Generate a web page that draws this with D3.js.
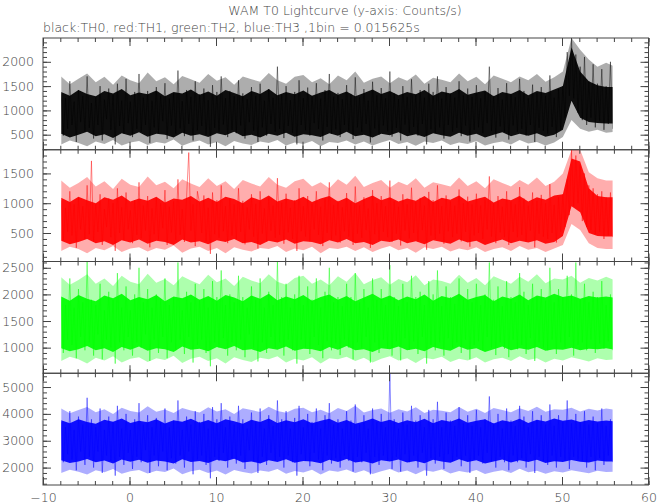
<!DOCTYPE html>
<html><head><meta charset="utf-8">
<script src="https://cdn.jsdelivr.net/npm/d3@7"></script>
<style>
html,body{margin:0;padding:0;background:#fff;}
svg text{font-family:"DejaVu Sans",sans-serif;font-weight:200;fill:#444;}
</style></head>
<body><svg id="c" width="657" height="504"></svg>
<script>
// ---- data (Counts/s) ----
// spike trace: one value per 0.25 s; dense core and lighter halo: low/high edges per 1 s
const TIME_START = -7.9;
const BIN = 0.25;
const BAND_BIN = 1;
const titleText = "WAM T0 Lightcurve (y-axis: Counts/s)";
const subtitleText = "black:TH0, red:TH1, green:TH2, blue:TH3 ,1bin = 0.015625s";
const xTickLabels = [-10, 0, 10, 20, 30, 40, 50, 60];
const th0Ticks = [500, 1000, 1500, 2000];
const th1Ticks = [500, 1000, 1500];
const th2Ticks = [1000, 1500, 2000, 2500];
const th3Ticks = [2000, 3000, 4000, 5000];

const th0 = [
1350,480,1250,620,1600,700,1180,350,1420,760,1300,560,1700,640,1150,420,
1280,700,1500,380,1220,820,1450,600,1320,300,1550,680,1200,520,1650,740,
1180,450,1380,620,1750,560,1260,700,1400,330,1200,650,1480,540,1300,780,
1560,410,1240,690,1350,520,1820,630,1190,470,1420,720,1280,380,1600,590,
1330,680,1450,500,1210,250,1520,640,1380,560,1700,710,1250,450,1400,600,
1290,530,1620,690,1350,420,1230,760,1480,580,1300,350,1550,650,1200,480,
1440,720,1260,560,1900,620,1330,430,1500,680,1210,540,1380,300,1620,700,
1250,590,1470,480,1300,740,1560,620,1240,380,1420,660,1750,520,1280,610,
1360,450,1230,700,1520,580,1340,410,1680,650,1270,560,1440,720,1200,340,
1590,630,1310,500,1460,690,1250,570,1800,460,1350,640,1230,380,1500,710,
1280,540,1640,660,1330,480,1420,720,1260,300,1550,610,1380,530,1700,650,
1240,420,1480,700,1350,560,1260,640,1600,470,1310,690,1450,360,1280,600,
1520,650,1250,530,1380,740,1900,580,1300,440,1460,670,1220,560,1560,400,
1340,690,1270,560,1650,620,1400,480,1250,700,1530,350,1360,640,1480,580,
1300,520,1720,660,1260,450,1440,600,1500,850,2200,1300,2490,1250,2150,950,
1900,800,2100,700,1600,850,1950,650,1550,780,1850,600,1500,720,2000,620];
const th0Lo = [520,440,500,560,470,510,430,530,480,550, 460,520,500,440,540,480,510,450,530,490,
560,470,500,440,520,480,540,460,510,490, 450,530,480,560,470,500,440,520,490,550,
470,510,450,530,490,460,540,480,520,440, 500,550,470,520,480,530,460,500, 600,1200,850,760,740,730,730];
const th0Hi = [1380,1300,1420,1340,1290,1400,1350,1440,1310,1370, 1330,1410,1290,1380,1350,1430,1320,1390,1300,1420,
1360,1290,1400,1340,1440,1310,1380,1330,1410,1300, 1370,1420,1320,1390,1290,1360,1430,1340,1400,1310,
1380,1330,1420,1300,1390,1350,1440,1320,1370,1410, 1290,1380,1340,1420,1310,1400,1360,1430, 1500,2300,1800,1600,1520,1480,1480];
const th0HaloLo = [300,380,330,260,360,310,390,280,340,370, 290,350,320,400,270,340,380,300,350,260,
370,320,290,360,330,390,280,340,310,370, 260,350,330,380,300,360,280,340,390,310,
350,270,360,330,380,290,340,310,370,280, 330,360,300,390,320,350,280,340, 450,800,620,560,600,540,560];
const th0HaloHi = [1700,1540,1650,1760,1580,1690,1530,1720,1620,1560, 1780,1600,1680,1540,1710,1640,1570,1750,1610,1680,
1530,1700,1640,1590,1770,1620,1550,1690,1730,1580, 1660,1540,1720,1620,1800,1570,1650,1700,1560,1680,
1610,1740,1550,1670,1630,1580,1760,1600,1690,1540, 1720,1650,1580,1700,1620,1750,1590,1680, 1800,2490,2250,2050,1900,1980,1900];

const th1 = [
1050,380,920,520,1200,460,980,250,1100,560,950,400,1300,480,1710,350,
990,520,1150,300,900,600,1080,430,1000,200,1250,500,930,380,1180,560,
880,330,1050,470,1350,410,960,540,1120,260,910,480,1080,390,1000,580,
1220,300,940,510,1030,380,1400,470,900,350,1110,1850,540,980,280,1200,
1000,500,1130,360,920,150,1180,480,1050,420,1300,530,950,330,1080,460,
980,400,1250,520,1040,310,930,560,1150,440,990,240,1200,490,910,360,
1090,540,960,420,1420,470,1010,320,1160,510,920,400,1050,200,1250,530,
950,440,1120,360,990,560,1200,470,940,280,1080,500,1350,390,970,460,
1040,340,930,530,1170,440,1020,300,1280,490,960,420,1100,550,910,250,
1220,480,1000,380,1120,520,950,430,1380,350,1030,490,940,290,1150,540,
980,410,1260,500,1020,360,1090,550,960,220,1190,460,1050,400,1300,490,
950,320,1130,530,1030,430,960,490,1230,360,1000,520,1110,270,980,460,
1160,500,960,400,1060,560,1450,440,1000,330,1120,510,940,430,1200,300,
1030,520,980,430,1270,470,1080,360,960,540,1180,260,1040,490,1140,440,
1000,400,1320,500,970,340,1100,520,1150,600,1400,800,1897,950,1800,1000,
1650,700,1500,600,1300,550,1250,480,1150,520,1200,400,1100,460,1180,430];
const th1Lo = [370,310,350,400,330,360,300,380,340,390, 320,370,350,300,390,340,360,310,380,350,
400,330,350,300,370,340,390,320,360,350, 310,380,340,400,330,350,300,370,350,390,
330,360,310,380,350,320,390,340,370,300, 350,390,330,370,340,380,320,350, 450,950,850,500,450,440,440];
const th1Hi = [1090,1020,1110,1050,1000,1100,1060,1130,1030,1080, 1040,1110,1010,1080,1060,1120,1030,1090,1020,1110,
1070,1000,1100,1050,1130,1030,1080,1040,1110,1020, 1080,1120,1030,1090,1000,1070,1130,1050,1100,1030,
1080,1040,1120,1020,1090,1060,1130,1030,1070,1110, 1010,1080,1050,1120,1030,1100,1060,1130, 1150,1750,1700,1250,1120,1100,1100];
const th1HaloLo = [200,270,230,160,250,210,280,180,240,260, 190,250,220,290,170,240,270,200,250,160,
260,220,190,250,230,280,180,240,210,270, 160,250,230,270,200,260,180,240,280,210,
250,170,260,230,270,190,240,210,260,180, 230,260,200,280,220,250,180,240, 300,650,550,330,250,230,230];
const th1HaloHi = [1380,1260,1340,1440,1280,1370,1240,1410,1310,1270, 1450,1300,1360,1250,1400,1330,1270,1420,1290,1370,
1240,1390,1330,1280,1440,1310,1260,1370,1410,1280, 1350,1250,1400,1310,1460,1270,1340,1390,1260,1360,
1300,1420,1260,1350,1320,1280,1430,1290,1370,1250, 1400,1340,1280,1390,1310,1430,1290,1360, 1500,1897,1897,1520,1420,1380,1380];

const th2 = [
1950,900,1800,1150,2300,1050,1750,800,2100,1200,1850,950,2618,1100,1900,850,
1800,1250,2200,780,1700,1150,2050,1000,1900,700,2400,1100,1750,950,2150,1200,
1700,850,2000,1100,2500,1000,1850,1250,2100,750,1750,1150,2000,900,1900,1200,
2300,800,1800,1100,1950,950,2600,1150,1700,880,2050,1200,1850,720,2200,1050,
1900,1150,2100,900,1750,650,2250,1100,1950,1000,2450,1180,1800,850,2000,1100,
1850,950,2350,1150,1950,820,1750,1250,2150,1000,1900,740,2300,1100,1750,900,
2050,1200,1800,1000,2618,1100,1950,850,2200,1150,1750,950,2000,700,2350,1150,
1800,1000,2150,880,1900,1200,2300,1050,1750,800,2050,1120,2500,950,1850,1080,
1950,860,1780,1150,2200,1000,1950,780,2400,1100,1850,1000,2100,1200,1750,720,
2300,1100,1900,900,2100,1150,1800,1000,2550,850,1950,1120,1780,760,2200,1180,
1850,960,2350,1120,1950,880,2050,1200,1800,700,2250,1050,2000,950,2450,1100,
1780,850,2150,1180,1950,1000,1820,1100,2300,900,1900,1150,2100,780,1850,1050,
2200,1120,1800,950,2000,1200,2600,1000,1900,860,2150,1100,1780,980,2250,820,
1950,1150,1850,970,2400,1050,2050,880,1800,1180,2200,750,1950,1100,2100,1000,
1880,950,2500,1150,1850,880,2100,1100,1950,1000,2350,1200,2000,850,2600,1050,
1900,1100,2200,950,1850,1150,2050,900,1950,1080,2250,980,1800,1120,2000,950];
const th2Lo = [990,930,970,1030,950,990,920,1010,960,1020, 940,990,970,920,1020,960,980,930,1010,970,
1030,950,970,920,990,960,1020,940,980,970, 930,1010,960,1030,950,970,920,990,970,1020,
950,980,930,1010,970,940,1020,960,990,920, 970,1020,950,990,960,1010,940,970, 960,1000,950,980,970,990,960];
const th2Hi = [1960,1880,1990,1920,1870,1980,1930,2010,1890,1950, 1910,1990,1870,1960,1930,2000,1900,1970,1880,1990,
1940,1870,1980,1920,2010,1890,1960,1910,1990,1880, 1950,2000,1900,1970,1870,1940,2010,1920,1980,1890,
1960,1910,2000,1880,1970,1930,2010,1900,1950,1990, 1870,1960,1920,2000,1890,1980,1940,2010, 1950,1980,1920,1970,1940,1960,1940];
const th2HaloLo = [750,830,780,700,810,760,840,720,790,820, 730,800,770,850,710,790,830,750,800,700,
820,770,730,810,780,840,720,790,760,820, 700,800,780,830,750,810,720,790,840,760,
800,710,810,780,830,730,790,760,820,720, 780,810,750,840,770,800,720,790, 760,820,780,740,800,770,780];
const th2HaloHi = [2320,2180,2270,2380,2200,2300,2160,2350,2240,2190, 2390,2220,2290,2170,2340,2260,2190,2370,2230,2300,
2160,2330,2260,2210,2380,2240,2180,2310,2350,2200, 2280,2170,2340,2240,2400,2190,2270,2320,2180,2290,
2230,2360,2170,2280,2250,2200,2370,2220,2310,2170, 2340,2270,2200,2330,2240,2380,2210,2300, 2280,2350,2220,2310,2260,2330,2270];

const th3 = [
3700,2200,3500,2500,4100,2300,3400,1900,3900,2600,3600,2100,4600,2400,3800,2000,
3500,2600,4200,1800,3400,2450,3900,2250,3700,1700,4300,2400,3450,2100,4000,2550,
3400,1950,3800,2400,4400,2200,3600,2650,3950,1800,3500,2450,3850,2050,3700,2600,
4200,1900,3500,2350,3750,2150,4500,2450,3400,2000,3900,2600,3600,1750,4100,2300,
3700,2450,4000,2100,3450,1600,4250,2400,3800,2250,4400,2550,3500,2000,3900,2350,
3600,2150,4300,2450,3800,1950,3450,2650,4050,2250,3700,1800,4200,2400,3450,2100,
3950,2550,3550,2250,4500,2400,3800,2000,4100,2450,3450,2200,3850,1700,4300,2500,
3500,2250,4000,2050,3700,2550,4200,2300,3450,1900,3950,2450,4400,2150,3600,2350,
3800,2000,3450,2450,4100,2250,3750,1850,4350,2400,3600,2200,3950,2550,3450,1750,
4200,2400,3700,2100,4000,2450,3500,2250,5513,1950,3800,2400,3450,1850,4050,2500,
3600,2200,4300,2450,3750,2000,3950,2550,3500,1700,4150,2350,3800,2150,4450,2400,
3500,1950,4050,2500,3750,2250,3550,2400,4250,2050,3650,2450,3950,1800,3550,2300,
4150,2450,3500,2150,3800,2550,4650,2250,3650,2000,4000,2400,3450,2200,4200,1900,
3750,2450,3550,2200,4300,2350,3900,2000,3500,2500,4100,1800,3750,2400,3950,2250,
3600,2100,4350,2450,3550,2000,3950,2400,3700,2250,4500,1950,3650,2400,4000,2300,
3700,2250,4100,2000,3600,2400,3900,1900,3650,2350,4200,2100,3550,2450,3800,2200];
const th3Lo = [2270,2170,2230,2320,2200,2260,2150,2300,2220,2290, 2180,2260,2230,2150,2310,2210,2250,2170,2290,2240,
2330,2190,2230,2150,2270,2210,2310,2180,2250,2230, 2160,2290,2210,2320,2190,2240,2150,2270,2230,2300,
2190,2250,2160,2290,2230,2180,2310,2210,2270,2150, 2230,2300,2190,2270,2210,2290,2170,2240, 2210,2280,2220,2190,2260,2230,2230];
const th3Hi = [3760,3650,3800,3700,3630,3780,3710,3830,3660,3740, 3690,3800,3640,3760,3710,3820,3670,3770,3650,3800,
3730,3630,3780,3700,3830,3660,3760,3690,3800,3650, 3740,3820,3670,3770,3630,3720,3830,3700,3780,3660,
3760,3690,3820,3650,3770,3710,3830,3670,3740,3800, 3640,3760,3700,3820,3660,3780,3720,3830, 3740,3790,3700,3770,3720,3750,3720];
const th3HaloLo = [1800,1920,1850,1740,1900,1830,1950,1770,1860,1910, 1780,1880,1840,1970,1750,1860,1920,1800,1890,1740,
1910,1840,1780,1890,1850,1950,1770,1870,1820,1920, 1740,1890,1850,1930,1800,1900,1760,1860,1950,1820,
1890,1750,1900,1850,1930,1780,1870,1820,1910,1760, 1850,1900,1800,1960,1830,1880,1770,1860, 1820,1900,1850,1790,1880,1840,1850];
const th3HaloHi = [4200,4020,4140,4260,4060,4170,4000,4230,4110,4050, 4280,4080,4160,4030,4220,4130,4050,4250,4090,4170,
4000,4210,4140,4070,4270,4110,4040,4190,4230,4060, 4150,4020,4220,4110,4300,4050,4140,4200,4040,4170,
4090,4250,4030,4150,4120,4060,4260,4080,4190,4030, 4220,4140,4060,4210,4110,4270,4080,4170, 4150,4230,4090,4190,4130,4200,4150];

// ---- layout ----
const svg = d3.select("#c");
const L = 43, R = 648.5, T = 38, B = 485;
const ph = (B - T) / 4;
const x = d3.scaleLinear().domain([-10, 60]).range([L, R]);

const panels = [
  {values: th0, lo: th0Lo, hi: th0Hi, hlo: th0HaloLo, hhi: th0HaloHi, color: "#000", domain: [190, 2490], ticks: th0Ticks, minor: 100},
  {values: th1, lo: th1Lo, hi: th1Hi, hlo: th1HaloLo, hhi: th1HaloHi, color: "#f00", domain: [22, 1897], ticks: th1Ticks, minor: 100},
  {values: th2, lo: th2Lo, hi: th2Hi, hlo: th2HaloLo, hhi: th2HaloHi, color: "#0f0", domain: [519, 2618], ticks: th2Ticks, minor: 100},
  {values: th3, lo: th3Lo, hi: th3Hi, hlo: th3HaloLo, hhi: th3HaloHi, color: "#00f", domain: [1352, 5513], ticks: th3Ticks, minor: 200}
];

svg.append("text").attr("x", 345).attr("y", 15).attr("text-anchor", "middle")
  .style("font-size", "12.5px").text(titleText);
svg.append("text").attr("x", 43).attr("y", 31.5)
  .style("font-size", "12.5px").text(subtitleText);

const xMinor = d3.range(-10, 60.01, 2);
const lineCol = "#444";

panels.forEach((p, k) => {
  const top = T + k * ph, bot = top + ph;
  const y = d3.scaleLinear().domain(p.domain).range([bot, top]);
  const g = svg.append("g");
  const cid = "clip" + k;
  const tEnd = TIME_START + (p.values.length - 1) * BIN;
  svg.append("clipPath").attr("id", cid).append("rect")
    .attr("x", x(TIME_START)).attr("y", top).attr("width", x(tEnd) - x(TIME_START)).attr("height", ph);

  const bandX = (d, i) => x(TIME_START + i * BAND_BIN);
  g.append("path").datum(p.hhi).attr("clip-path", `url(#${cid})`)
    .attr("d", d3.area().x(bandX).y0((d, i) => y(p.hlo[i])).y1(d => y(d)))
    .attr("fill", p.color).attr("fill-opacity", 0.32);
  g.append("path").datum(p.hi).attr("clip-path", `url(#${cid})`)
    .attr("d", d3.area().x(bandX).y0((d, i) => y(p.lo[i])).y1(d => y(d)))
    .attr("fill", p.color).attr("fill-opacity", 0.92);

  const line = d3.line().x((d, i) => x(TIME_START + i * BIN)).y(d => y(d));
  g.append("path").datum(p.values).attr("clip-path", `url(#${cid})`)
    .attr("d", line).attr("fill", "none").attr("stroke", p.color)
    .attr("stroke-opacity", 0.45).attr("stroke-width", 1);

  const minorY = d3.range(Math.ceil(p.domain[0] / p.minor) * p.minor, p.domain[1], p.minor);
  const style = sel => { sel.select(".domain").remove(); sel.selectAll("line").attr("stroke", lineCol); };

  g.append("g").attr("transform", `translate(${L},0)`)
    .call(d3.axisLeft(y).tickValues(minorY).tickSize(-4).tickFormat("")).call(style);
  g.append("g").attr("transform", `translate(${L},0)`)
    .call(d3.axisLeft(y).tickValues(p.ticks).tickSize(-8).tickPadding(9).tickFormat(d3.format("d")))
    .call(style).selectAll("text").style("font-size", "12.5px").attr("fill", "#444");
  g.append("g").attr("transform", `translate(${R},0)`)
    .call(d3.axisRight(y).tickValues(minorY).tickSize(-4).tickFormat("")).call(style);
  g.append("g").attr("transform", `translate(${R},0)`)
    .call(d3.axisRight(y).tickValues(p.ticks).tickSize(-8).tickFormat("")).call(style);

  [[top, d3.axisTop], [bot, d3.axisBottom]].forEach(([yy, ax]) => {
    g.append("g").attr("transform", `translate(0,${yy})`)
      .call(ax(x).tickValues(xMinor).tickSize(-4).tickFormat("")).call(style);
    g.append("g").attr("transform", `translate(0,${yy})`)
      .call(ax(x).tickValues(xTickLabels).tickSize(-8).tickFormat("")).call(style);
  });

  g.append("rect").attr("x", L).attr("y", top).attr("width", R - L).attr("height", ph)
    .attr("fill", "none").attr("stroke", lineCol).attr("stroke-width", 1);
});

svg.append("g").attr("transform", `translate(0,${B})`)
  .call(d3.axisBottom(x).tickValues(xTickLabels).tickSize(0).tickPadding(8.5)
    .tickFormat(d => d < 0 ? "\u2212" + Math.abs(d) : d))
  .call(s => s.select(".domain").remove())
  .selectAll("text").style("font-size", "12.5px").attr("fill", "#444");
</script></body></html>
